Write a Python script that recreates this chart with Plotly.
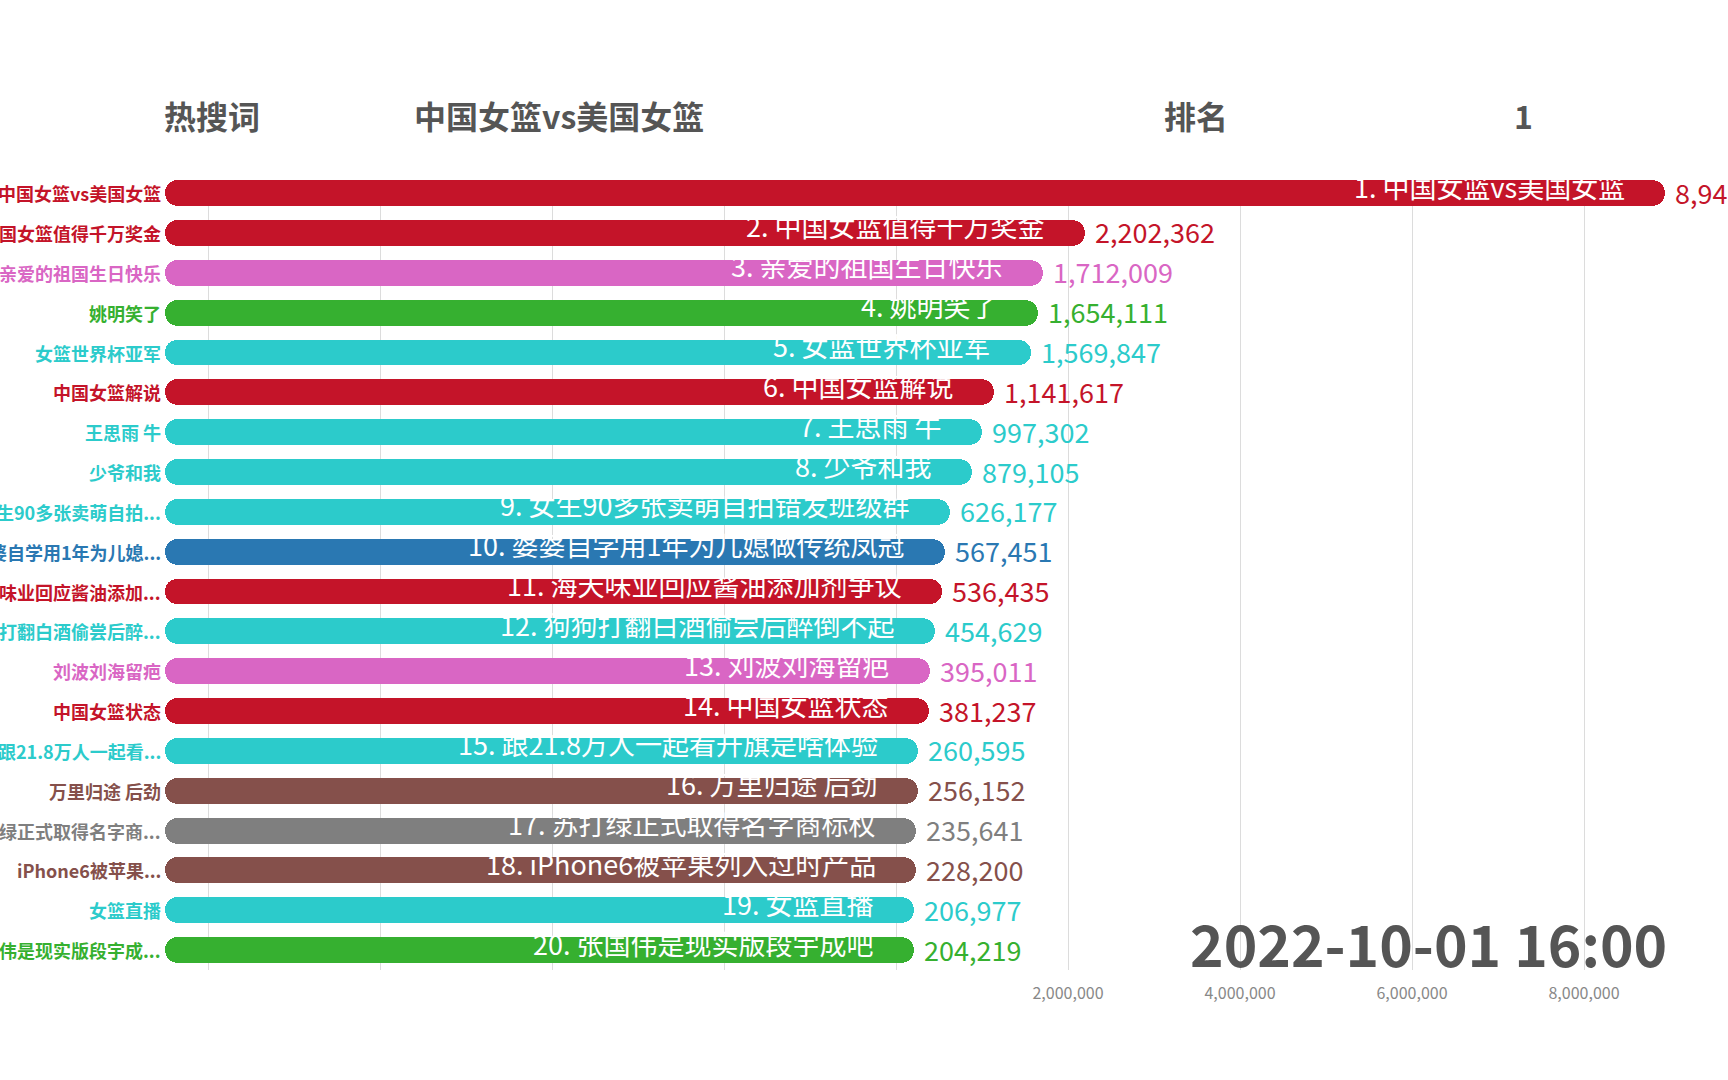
import plotly.graph_objects as go

# ---------------- data ----------------
names = [
    "中国女篮vs美国女篮", "中国女篮值得千万奖金", "亲爱的祖国生日快乐", "姚明笑了",
    "女篮世界杯亚军", "中国女篮解说", "王思雨 牛", "少爷和我",
    "女生90多张卖萌自拍错发班级群", "婆婆自学用1年为儿媳做传统凤冠",
    "海天味业回应酱油添加剂争议", "狗狗打翻白酒偷尝后醉倒不起",
    "刘波刘海留疤", "中国女篮状态", "跟21.8万人一起看升旗是啥体验",
    "万里归途 后劲", "苏打绿正式取得名字商标权", "iPhone6被苹果列入过时产品",
    "女篮直播", "张国伟是现实版段宇成吧",
]
short_labels = [
    "中国女篮vs美国女篮", "中国女篮值得千万奖金", "亲爱的祖国生日快乐", "姚明笑了",
    "女篮世界杯亚军", "中国女篮解说", "王思雨 牛", "少爷和我",
    "女生90多张卖萌自拍...", "婆婆自学用1年为儿媳...",
    "海天味业回应酱油添加...", "狗狗打翻白酒偷尝后醉...",
    "刘波刘海留疤", "中国女篮状态", "跟21.8万人一起看...",
    "万里归途 后劲", "苏打绿正式取得名字商...", "iPhone6被苹果...",
    "女篮直播", "张国伟是现实版段宇成...",
]
values = [
    8943516, 2202362, 1712009, 1654111, 1569847, 1141617, 997302, 879105,
    626177, 567451, 536435, 454629, 395011, 381237, 260595, 256152,
    235641, 228200, 206977, 204219,
]
RED, PINK, GREEN, CYAN = "#c41429", "#d966c4", "#36b030", "#2ccbcb"
BLUE, BROWN, GRAY = "#2a78b2", "#85504b", "#7f7f7f"
colors = [
    RED, RED, PINK, GREEN, CYAN, RED, CYAN, CYAN, CYAN, BLUE,
    RED, CYAN, PINK, RED, CYAN, BROWN, GRAY, BROWN, CYAN, GREEN,
]
tick_vals = [-8e6, -6e6, -4e6, -2e6, 0, 2e6, 4e6, 6e6, 8e6]
tick_text = ["", "", "", "", "", "2,000,000", "4,000,000", "6,000,000", "8,000,000"]
headers = ["热搜词", "中国女篮vs美国女篮", "排名", "1"]
date_label = "2022-10-01 16:00"

# ---------------- layout constants ----------------
FIG_W, FIG_H = 1728, 1080
ML, MT, MB = 165, 180, 110
PLOT_W = FIG_W - ML
PLOT_H = FIG_H - MT - MB
ZERO_PX, PX_PER_UNIT = 896, 86 / 1e6
XMIN = (ML - ZERO_PX) / PX_PER_UNIT
XMAX = (FIG_W - ZERO_PX) / PX_PER_UNIT
FONT = "Noto Sans CJK SC, Noto Sans, sans-serif"
BAR_W = 0.65


def paper_x(px):
    return (px - ML) / PLOT_W


def paper_y(py):
    return (FIG_H - MB - py) / PLOT_H


fig = go.Figure()

mids = [(XMIN + v) / 2 for v in values]
right_base = XMIN + 40 / PX_PER_UNIT
# left piece (rounded left end), from the middle back to the axis start
fig.add_trace(go.Bar(
    y=names, x=[XMIN - m for m in mids], base=mids, orientation="h", width=BAR_W,
    marker=dict(color=colors, cornerradius="50%", line=dict(width=0)),
    hoverinfo="skip", showlegend=False, cliponaxis=False,
))
# right piece (rounded right end), overlapping the left piece
fig.add_trace(go.Bar(
    y=names, x=[v - right_base for v in values], base=[right_base] * len(values),
    orientation="h", width=BAR_W,
    marker=dict(color=colors, cornerradius="50%", line=dict(width=0)),
    hoverinfo="skip", showlegend=False, cliponaxis=False,
))

ann = []
for i, (n, lab, v, c) in enumerate(zip(names, short_labels, values, colors)):
    ann.append(dict(x=XMIN, y=n, xref="x", yref="y", text=lab, showarrow=False,
                    xanchor="right", xshift=-2,
                    font=dict(family=FONT, size=18, color=c, weight="bold")))
    ann.append(dict(x=v, y=n, xref="x", yref="y", text=f"{i + 1}. {n}", showarrow=False,
                    xanchor="right", xshift=-38, yshift=7,
                    font=dict(family=FONT, size=27, color="white")))
    ann.append(dict(x=v, y=n, xref="x", yref="y", text=f"{v:,}", showarrow=False,
                    xanchor="left", xshift=8, yshift=1,
                    font=dict(family=FONT, size=27, color=c)))

for txt, px in zip(headers, [212, 559, 1196, 1523]):
    ann.append(dict(x=paper_x(px), y=paper_y(115), xref="paper", yref="paper", text=txt,
                    showarrow=False, xanchor="center", yanchor="middle",
                    font=dict(family=FONT, size=32, color="#555555", weight="bold")))

ann.append(dict(x=paper_x(1428), y=paper_y(942), xref="paper", yref="paper", text=date_label,
                showarrow=False, xanchor="center", yanchor="middle", borderpad=0,
                font=dict(family=FONT, size=57, color="#555555", weight="bold")))

fig.update_layout(
    width=FIG_W, height=FIG_H,
    margin=dict(l=ML, r=0, t=MT, b=MB, pad=0),
    paper_bgcolor="white", plot_bgcolor="white",
    barmode="overlay", bargap=0,
    annotations=ann,
    font=dict(family=FONT),
    xaxis=dict(range=[XMIN, XMAX], tickvals=tick_vals, ticktext=tick_text,
               showgrid=True, gridcolor="#dcdcdc", gridwidth=1,
               zeroline=True, zerolinecolor="#dcdcdc", zerolinewidth=1,
               showline=False, ticks="", ticklabelstandoff=12,
               tickfont=dict(family=FONT, size=16, color="#888888"), fixedrange=True),
    yaxis=dict(range=[len(names) - 0.5, -0.33], showticklabels=False, showgrid=False,
               zeroline=False, showline=False, ticks="", fixedrange=True,
               categoryorder="array", categoryarray=names),
)

fig.write_html("out.html", config={"displayModeBar": False},
               post_script="document.body.style.margin='0';")
